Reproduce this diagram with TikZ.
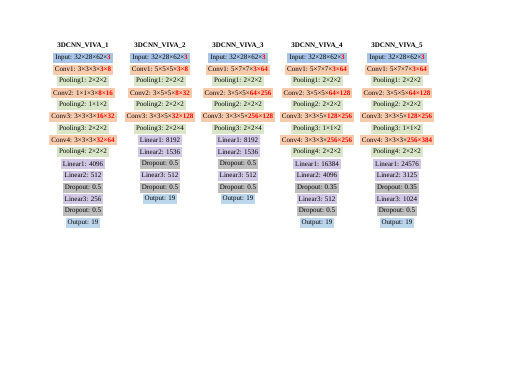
\documentclass[tikz,border=0pt]{standalone}
\usepackage{fontspec}
\setmainfont{Liberation Serif}
\usepackage{tikz}
\definecolor{inpcol}{RGB}{168,196,230}
\definecolor{outcol}{RGB}{188,214,238}
\definecolor{convcol}{RGB}{248,203,173}
\definecolor{poolcol}{RGB}{218,230,200}
\definecolor{lincol}{RGB}{208,200,228}
\definecolor{dropcol}{RGB}{190,190,190}
\newcommand{\redp}[1]{\textcolor{red}{\textbf{#1}}}
\tikzset{
  layer/.style={inner xsep=2pt, inner ysep=1pt, minimum height=10pt, font=\fontsize{7}{8}\selectfont},
  inbox/.style={layer, fill=inpcol},
  outbox/.style={layer, fill=outcol},
  convbox/.style={layer, fill=convcol},
  poolbox/.style={layer, fill=poolcol},
  linbox/.style={layer, fill=lincol},
  dropbox/.style={layer, fill=dropcol},
  ttl/.style={font=\fontsize{7}{8}\selectfont\bfseries, inner sep=1pt},
}

\begin{document}
\begin{tikzpicture}[x=1pt,y=1pt]
\useasboundingbox (0,0) rectangle (505,-369);

% --- titulos ---
\foreach \x/\k in {83/1, 160/2, 238/3, 317/4, 397/5}
  \node[ttl] (t\k) at (\x,-46) {3DCNN\_VIVA\_\k};

% --- 3DCNN_VIVA_1 ---
\foreach \st/\txt [count=\i] in {
  inbox/{Input: 32×28×62×\redp{3}}, convbox/{Conv1: 3×3×3×\redp{3×8}},
  poolbox/{Pooling1: 2×2×2}, convbox/{Conv2: 1×1×3×\redp{8×16}},
  poolbox/{Pooling2: 1×1×2}, convbox/{Conv3: 3×3×3×\redp{16×32}},
  poolbox/{Pooling3: 2×2×2}, convbox/{Conv4: 3×3×3×\redp{32×64}},
  poolbox/{Pooling4: 2×2×2}, linbox/{Linear1: 4096}, linbox/{Linear2: 512},
  dropbox/{Dropout: 0.5}, linbox/{Linear3: 256}, dropbox/{Dropout: 0.5},
  outbox/{Output: 19}}
  \node[\st] (a\i) at (83,{-57.7-11.8*(\i-1)}) {\txt};

% --- 3DCNN_VIVA_2 ---
\foreach \st/\txt [count=\i] in {
  inbox/{Input: 32×28×62×\redp{3}}, convbox/{Conv1: 5×5×5×\redp{3×8}},
  poolbox/{Pooling1: 2×2×2}, convbox/{Conv2: 3×5×5×\redp{8×32}},
  poolbox/{Pooling2: 2×2×2}, convbox/{Conv3: 3×3×5×\redp{32×128}},
  poolbox/{Pooling3: 2×2×4}, linbox/{Linear1: 8192}, linbox/{Linear2: 1536},
  dropbox/{Dropout: 0.5}, linbox/{Linear3: 512}, dropbox/{Dropout: 0.5},
  outbox/{Output: 19}}
  \node[\st] (b\i) at (160,{-57.7-11.8*(\i-1)}) {\txt};

% --- 3DCNN_VIVA_3 ---
\foreach \st/\txt [count=\i] in {
  inbox/{Input: 32×28×62×\redp{3}}, convbox/{Conv1: 5×7×7×\redp{3×64}},
  poolbox/{Pooling1: 2×2×2}, convbox/{Conv2: 3×5×5×\redp{64×256}},
  poolbox/{Pooling2: 2×2×2}, convbox/{Conv3: 3×3×5×\redp{256×128}},
  poolbox/{Pooling3: 2×2×4}, linbox/{Linear1: 8192}, linbox/{Linear2: 1536},
  dropbox/{Dropout: 0.5}, linbox/{Linear3: 512}, dropbox/{Dropout: 0.5},
  outbox/{Output: 19}}
  \node[\st] (c\i) at (238,{-57.7-11.8*(\i-1)}) {\txt};

% --- 3DCNN_VIVA_4 ---
\foreach \st/\txt [count=\i] in {
  inbox/{Input: 32×28×62×\redp{3}}, convbox/{Conv1: 5×7×7×\redp{3×64}},
  poolbox/{Pooling1: 2×2×2}, convbox/{Conv2: 3×5×5×\redp{64×128}},
  poolbox/{Pooling2: 2×2×2}, convbox/{Conv3: 3×3×5×\redp{128×256}},
  poolbox/{Pooling3: 1×1×2}, convbox/{Conv4: 3×3×3×\redp{256×256}},
  poolbox/{Pooling4: 2×2×2}, linbox/{Linear1: 16384}, linbox/{Linear2: 4096},
  dropbox/{Dropout: 0.35}, linbox/{Linear3: 512}, dropbox/{Dropout: 0.5},
  outbox/{Output: 19}}
  \node[\st] (d\i) at (317,{-57.7-11.8*(\i-1)}) {\txt};

% --- 3DCNN_VIVA_5 ---
\foreach \st/\txt [count=\i] in {
  inbox/{Input: 32×28×62×\redp{3}}, convbox/{Conv1: 5×7×7×\redp{3×64}},
  poolbox/{Pooling1: 2×2×2}, convbox/{Conv2: 3×5×5×\redp{64×128}},
  poolbox/{Pooling2: 2×2×2}, convbox/{Conv3: 3×3×5×\redp{128×256}},
  poolbox/{Pooling3: 1×1×2}, convbox/{Conv4: 3×3×3×\redp{256×384}},
  poolbox/{Pooling4: 2×2×2}, linbox/{Linear1: 24576}, linbox/{Linear2: 3125},
  dropbox/{Dropout: 0.35}, linbox/{Linear3: 1024}, dropbox/{Dropout: 0.5},
  outbox/{Output: 19}}
  \node[\st] (e\i) at (397,{-57.7-11.8*(\i-1)}) {\txt};
\end{tikzpicture}
\end{document}
